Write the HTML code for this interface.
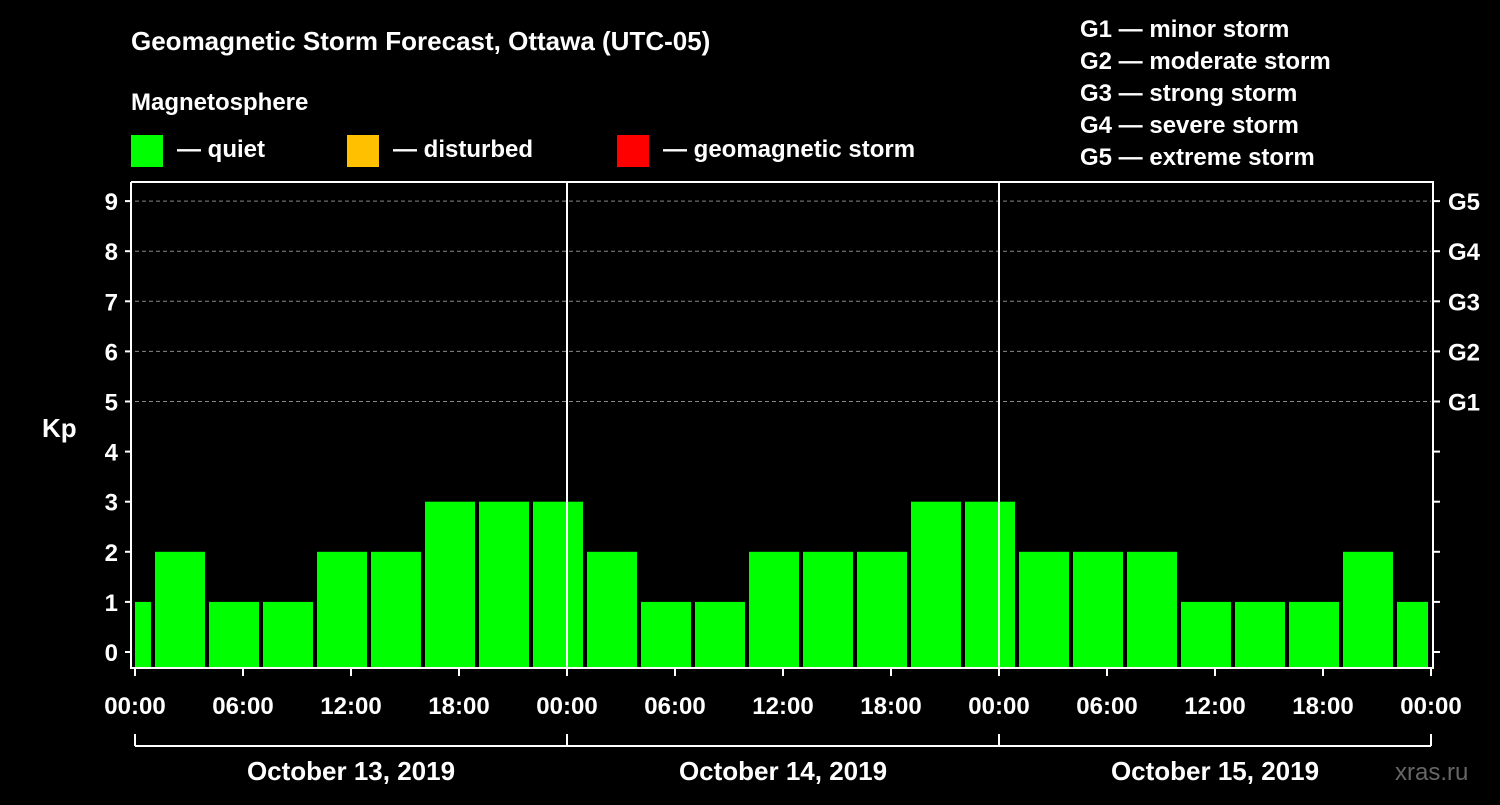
<!DOCTYPE html>
<html><head><meta charset="utf-8"><style>
body{margin:0;background:#000;width:1500px;height:800px;overflow:hidden;font-family:"Liberation Sans",sans-serif}
</style></head><body>
<svg id="c" width="1500" height="800" xmlns="http://www.w3.org/2000/svg" font-family="Liberation Sans, sans-serif" font-weight="bold" fill="#fff">
<rect width="1500" height="800" fill="#000"/>
<text x="131" y="50" font-size="26">Geomagnetic Storm Forecast, Ottawa (UTC-05)</text>
<text x="131" y="110" font-size="24">Magnetosphere</text>
<g><rect x="131" y="135" width="32" height="32" fill="#00ff00"/><text x="177" y="157" font-size="24">— quiet</text></g>
<g><rect x="347" y="135" width="32" height="32" fill="#ffc000"/><text x="393" y="157" font-size="24">— disturbed</text></g>
<g><rect x="617" y="135" width="32" height="32" fill="#ff0000"/><text x="663" y="157" font-size="24">— geomagnetic storm</text></g>
<g font-size="24">
<text x="1080" y="37">G1 — minor storm</text><text x="1080" y="69">G2 — moderate storm</text><text x="1080" y="101">G3 — strong storm</text><text x="1080" y="133">G4 — severe storm</text><text x="1080" y="165">G5 — extreme storm</text></g>
<text x="42" y="437" font-size="26">Kp</text>
<text x="1395" y="780" font-size="24" fill="#666" font-weight="normal">xras.ru</text>
<g id="plot"></g>
</svg>
<script>
const kpValues=[1,2,1,1,2,2,3,3,3,2,1,1,2,2,2,3,3,2,2,2,1,1,1,2,1];
const dayLabels=["October 13, 2019","October 14, 2019","October 15, 2019"];
const hourLabels=["00:00","06:00","12:00","18:00"];
const gLabels=["G1","G2","G3","G4","G5"];
const x0=135,pxH=18,yb=668;
const X=h=>x0+h*pxH, Y=v=>652-50.1*v;
const ns="http://www.w3.org/2000/svg",p=document.getElementById('plot');
function mk(t,a,txt){const e=document.createElementNS(ns,t);for(const k in a)e.setAttribute(k,a[k]);if(txt!=null)e.textContent=txt;p.appendChild(e);return e;}
// grid
for(let v=5;v<=9;v++){const l=mk('line',{x1:X(0),x2:X(72),y1:Y(v),y2:Y(v),stroke:'#888','stroke-dasharray':'4,3'});

}
// bars
kpValues.forEach((v,i)=>{let s=-2+3*i,e=s+3;let a=Math.max(X(s)+2,X(0)),b=Math.min(X(e)-2,X(72)-3);
const r=mk('rect',{x:a,y:Y(v),width:b-a,height:yb-Y(v),fill:'#00ff00'});

});
// frame
const fr=mk('path',{d:`M${X(0)-4},182V${yb}H${X(72)+2}V182H${X(0)-4}`,stroke:'#fff','stroke-width':2,fill:'none'});


for(let d=1;d<3;d++){const l=mk('line',{x1:X(24*d),x2:X(24*d),y1:182,y2:yb,stroke:'#fff','stroke-width':2});

}
// y ticks
for(let v=0;v<=9;v++){
const t=mk('text',{x:118,y:Y(v)+9,'font-size':24,'text-anchor':'end'},v);


mk('line',{x1:X(0)-10,x2:X(0)-4,y1:Y(v),y2:Y(v),stroke:'#fff','stroke-width':2});
mk('line',{x1:X(72)+2,x2:X(72)+9,y1:Y(v),y2:Y(v),stroke:'#fff','stroke-width':2});}
gLabels.forEach((g,i)=>{const t=mk('text',{x:1448,y:Y(5+i)+9,'font-size':24},g);

});
// x ticks
for(let h=0;h<=72;h+=6){mk('line',{x1:X(h),x2:X(h),y1:yb,y2:yb+8,stroke:'#fff','stroke-width':2});
const t=mk('text',{x:X(h),y:714,'font-size':24,'text-anchor':'middle'},hourLabels[(h/6)%4]);

}
mk('line',{x1:X(0),x2:X(72),y1:746,y2:746,stroke:'#fff','stroke-width':2});
for(let d=0;d<=3;d++)mk('line',{x1:X(24*d),x2:X(24*d),y1:734,y2:746,stroke:'#fff','stroke-width':2});
dayLabels.forEach((s,i)=>{const t=mk('text',{x:X(24*i+12),y:780,'font-size':26,'text-anchor':'middle'},s);

});
</script>
</body></html>
